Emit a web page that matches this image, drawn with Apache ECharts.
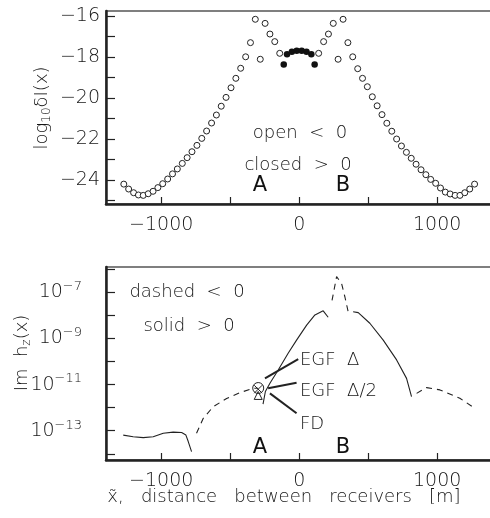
<!DOCTYPE html>
<html>
<head>
<meta charset="utf-8">
<script src="https://cdn.jsdelivr.net/npm/echarts@6/dist/echarts.min.js"></script>
<style>
  html, body { margin: 0; padding: 0; background: #fff; }
  #chart { width: 490px; height: 518px; }
</style>
</head>
<body>
<div id="chart"></div>
<script>
// upper panel: log10 dI(x), open = negative, closed = positive
const openPts = [
  [-1271, -24.2], [-1236, -24.44], [-1200, -24.62], [-1165, -24.73], [-1130, -24.75],
  [-1094, -24.67], [-1059, -24.55], [-1024, -24.37], [-989, -24.18], [-953, -23.95],
  [-918, -23.7], [-883, -23.46], [-847, -23.19], [-812, -22.91], [-777, -22.62],
  [-741, -22.31], [-706, -21.97], [-671, -21.61], [-635, -21.22], [-600, -20.83],
  [-565, -20.4], [-530, -19.97], [-494, -19.5], [-459, -19.04], [-424, -18.55],
  [-388, -17.99], [-353, -17.3], [-318, -16.16], [-282, -18.11], [-247, -16.36],
  [-212, -16.88], [-177, -17.25], [-141, -17.82],
  [141, -17.82], [177, -17.25], [212, -16.88], [247, -16.36], [282, -18.11],
  [318, -16.16], [353, -17.3], [388, -17.99], [424, -18.57], [459, -19.04],
  [494, -19.45], [530, -19.94], [565, -20.38], [600, -20.81], [635, -21.23],
  [671, -21.62], [706, -22.0], [741, -22.34], [777, -22.65], [812, -22.94],
  [847, -23.23], [883, -23.5], [918, -23.74], [953, -23.97], [989, -24.16],
  [1024, -24.39], [1059, -24.59], [1094, -24.68], [1130, -24.75], [1165, -24.75],
  [1200, -24.62], [1236, -24.44], [1271, -24.2]
];
const closedPts = [
  [-112, -18.36], [-88, -17.86], [-53, -17.74], [-18, -17.69],
  [18, -17.69], [53, -17.74], [88, -17.86], [112, -18.36]
];

// lower panel: log10 |Im hz(x)|, solid = positive, dashed = negative
const solidA = [[-1275, -13.19], [-1203, -13.26], [-1130, -13.3], [-1058, -13.26], [-985, -13.11],
  [-913, -13.06], [-852, -13.08], [-821, -13.19], [-804, -13.47], [-780, -13.91]];
const dashedA = [[-744, -13.11], [-695, -12.46], [-623, -11.96], [-526, -11.6], [-430, -11.35],
  [-333, -11.16], [-297, -11.16]];
const solidB = [[-262, -11.85], [-245, -11.3], [-212, -10.94], [-152, -10.37], [-80, -9.64],
  [-19, -9.07], [54, -8.42], [114, -7.98], [174, -7.8], [210, -8.08]];
const dashedB = [[238, -7.35], [271, -6.32], [283, -6.25], [307, -6.61], [331, -7.19], [355, -7.84]];
const solidC = [[391, -7.84], [428, -7.88], [512, -8.34], [609, -9.07], [706, -9.93],
  [778, -10.73], [814, -11.52]];
const dashedC = [[851, -11.38], [923, -11.13], [1020, -11.23], [1164, -11.59], [1273, -12.03]];

// comparison markers near receiver A
const egfFull = [[-297, -11.15]];
const egfHalf = [[-297, -11.2]];
const fdPts = [[-297, -11.47]];
const leaders = [
  [[-248, -10.73], [-7, -9.9]],
  [[-225, -11.16], [-19, -10.92]],
  [[-212, -11.38], [-19, -12.24]]
];

const xTicks = [-1000, -500, 0, 500, 1000];
const xLabels = [-1000, 0, 1000];
const topYTicks = [-25, -24, -23, -22, -21, -20, -19, -18, -17, -16];
const topYLabels = [-24, -22, -20, -18, -16];
const botYTicks = [-14, -13, -12, -11, -10, -9, -8, -7, -6];
const botYLabels = [-13, -11, -9, -7];

const FONT = 'DejaVu Sans';
const TXT = '#151515';
const INK = '#222';
const THIN = 200;

const minus = v => (v < 0 ? '\u2212' + Math.abs(v) : String(v));

function xAxisOf(gridIndex) {
  return {
    type: 'value', gridIndex, min: -1400, max: 1440,
    axisLine: { onZero: false, lineStyle: { color: INK, width: 2.5 } },
    axisTick: { inside: true, length: 7, customValues: xTicks, lineStyle: { color: INK, width: 1.2 } },
    axisLabel: { customValues: xLabels, formatter: minus, margin: 12,
      fontFamily: FONT, fontWeight: THIN, fontSize: 19, color: TXT },
    splitLine: { show: false }
  };
}

const chart = echarts.init(document.getElementById('chart'), null, { renderer: 'canvas' });

const lineStyleSolid = { color: INK, width: 1.1, type: 'solid' };
const lineStyleDash = { color: INK, width: 1.1, type: [6, 5] };

function curve(data, dashed) {
  return {
    type: 'line', xAxisIndex: 1, yAxisIndex: 1, data, showSymbol: false, silent: true,
    lineStyle: dashed ? lineStyleDash : lineStyleSolid, z: 3
  };
}

const textStyle = { fontFamily: FONT, fontWeight: THIN, fontSize: 18, fill: TXT };
function label(x, y, text, extra) {
  return { type: 'text', x, y, silent: true,
    style: Object.assign({ text, align: 'center', verticalAlign: 'middle' }, textStyle, extra || {}) };
}
const bigLetter = { fontSize: 21, fill: '#111', fontWeight: 'normal' };

const gridBase = { left: 106, width: 391.9, height: 193, show: true, borderColor: '#555', borderWidth: 1.5,
  outerBoundsMode: 'none', containLabel: false };

chart.setOption({
  animation: false,
  grid: [
    Object.assign({ top: 11 }, gridBase),
    Object.assign({ top: 267 }, gridBase)
  ],
  xAxis: [xAxisOf(0), xAxisOf(1)],
  yAxis: [
    {
      type: 'value', gridIndex: 0, min: -25.17, max: -15.756,
      axisLine: { onZero: false, lineStyle: { color: INK, width: 2.5 } },
      axisTick: { inside: true, length: 9, customValues: topYTicks, lineStyle: { color: INK, width: 1.2 } },
      axisLabel: { customValues: topYLabels, formatter: minus, margin: 6,
        fontFamily: FONT, fontWeight: THIN, fontSize: 19, color: TXT },
      splitLine: { show: false }
    },
    {
      type: 'value', gridIndex: 1, min: -14.27, max: -5.9,
      axisLine: { onZero: false, lineStyle: { color: INK, width: 2.5 } },
      axisTick: { inside: true, length: 9, customValues: botYTicks, lineStyle: { color: INK, width: 1.2 } },
      axisLabel: {
        customValues: botYLabels, margin: 24,
        formatter: v => '{b|10}{s|\u2212' + Math.abs(v) + '}',
        rich: {
          b: { fontFamily: FONT, fontWeight: THIN, fontSize: 19, color: TXT },
          s: { fontFamily: FONT, fontWeight: THIN, fontSize: 13, color: TXT, padding: [0, 0, 11, 0] }
        }
      },
      splitLine: { show: false }
    }
  ],
  series: [
    {
      type: 'scatter', xAxisIndex: 0, yAxisIndex: 0, data: openPts, symbol: 'circle', symbolSize: 6,
      itemStyle: { color: '#fff', borderColor: INK, borderWidth: 1, opacity: 1 }, silent: true
    },
    {
      type: 'scatter', xAxisIndex: 0, yAxisIndex: 0, data: closedPts, symbol: 'circle', symbolSize: 6.5,
      itemStyle: { color: '#111', opacity: 1 }, silent: true
    },
    curve(solidA, false), curve(dashedA, true),
    curve(solidB, false), curve(dashedB, true),
    curve(solidC, false), curve(dashedC, true),
    {
      type: 'scatter', xAxisIndex: 1, yAxisIndex: 1, data: egfFull, symbol: 'circle', symbolSize: 11,
      itemStyle: { color: 'rgba(0,0,0,0)', borderColor: INK, borderWidth: 1, opacity: 1 }, silent: true, z: 5,
      markLine: {
        silent: true, symbol: 'none', label: { show: false },
        lineStyle: { color: INK, width: 2, type: 'solid' },
        data: leaders.map(seg => [{ coord: seg[0] }, { coord: seg[1] }])
      }
    },
    {
      type: 'scatter', xAxisIndex: 1, yAxisIndex: 1, data: egfHalf,
      symbol: 'path://M0,0L10,10M10,0L0,10', symbolSize: 8,
      itemStyle: { color: 'rgba(0,0,0,0)', borderColor: INK, borderWidth: 1, opacity: 1 }, silent: true, z: 5
    },
    {
      type: 'scatter', xAxisIndex: 1, yAxisIndex: 1, data: fdPts, symbol: 'triangle', symbolSize: 8,
      itemStyle: { color: 'rgba(0,0,0,0)', borderColor: INK, borderWidth: 1, opacity: 1 }, silent: true, z: 5
    }
  ],
  graphic: [
    label(300, 133, 'open  <  0'),
    label(298, 165, 'closed  >  0'),
    label(260, 186, 'A', bigLetter),
    label(343, 186, 'B', bigLetter),
    label(187, 292, 'dashed  <  0'),
    label(189, 326, 'solid  >  0'),
    label(260, 448, 'A', bigLetter),
    label(343, 448, 'B', bigLetter),
    label(300, 360, 'EGF  \u0394', { align: 'left' }),
    label(300, 391, 'EGF  \u0394/2', { align: 'left' }),
    label(300, 424, 'FD', { align: 'left' }),
    label(284, 497, 'x\u0303,   distance   between   receivers   [m]'),
    {
      type: 'text', x: 42, y: 108, rotation: Math.PI / 2, silent: true,
      style: {
        text: '{a|log}{s|10}{a|\u03b4I(x)}', align: 'center', verticalAlign: 'middle',
        rich: {
          a: { fontFamily: FONT, fontWeight: THIN, fontSize: 18, fill: TXT, color: TXT },
          s: { fontFamily: FONT, fontWeight: THIN, fontSize: 12, fill: TXT, color: TXT, padding: [9, 0, 0, 0] }
        }
      }
    },
    {
      type: 'text', x: 22, y: 353, rotation: Math.PI / 2, silent: true,
      style: {
        text: '{a|Im  h}{s|z}{a|(x)}', align: 'center', verticalAlign: 'middle',
        rich: {
          a: { fontFamily: FONT, fontWeight: THIN, fontSize: 18, fill: TXT, color: TXT },
          s: { fontFamily: FONT, fontWeight: THIN, fontSize: 12, fill: TXT, color: TXT, padding: [9, 0, 0, 0] }
        }
      }
    }
  ]
});
</script>
</body>
</html>
